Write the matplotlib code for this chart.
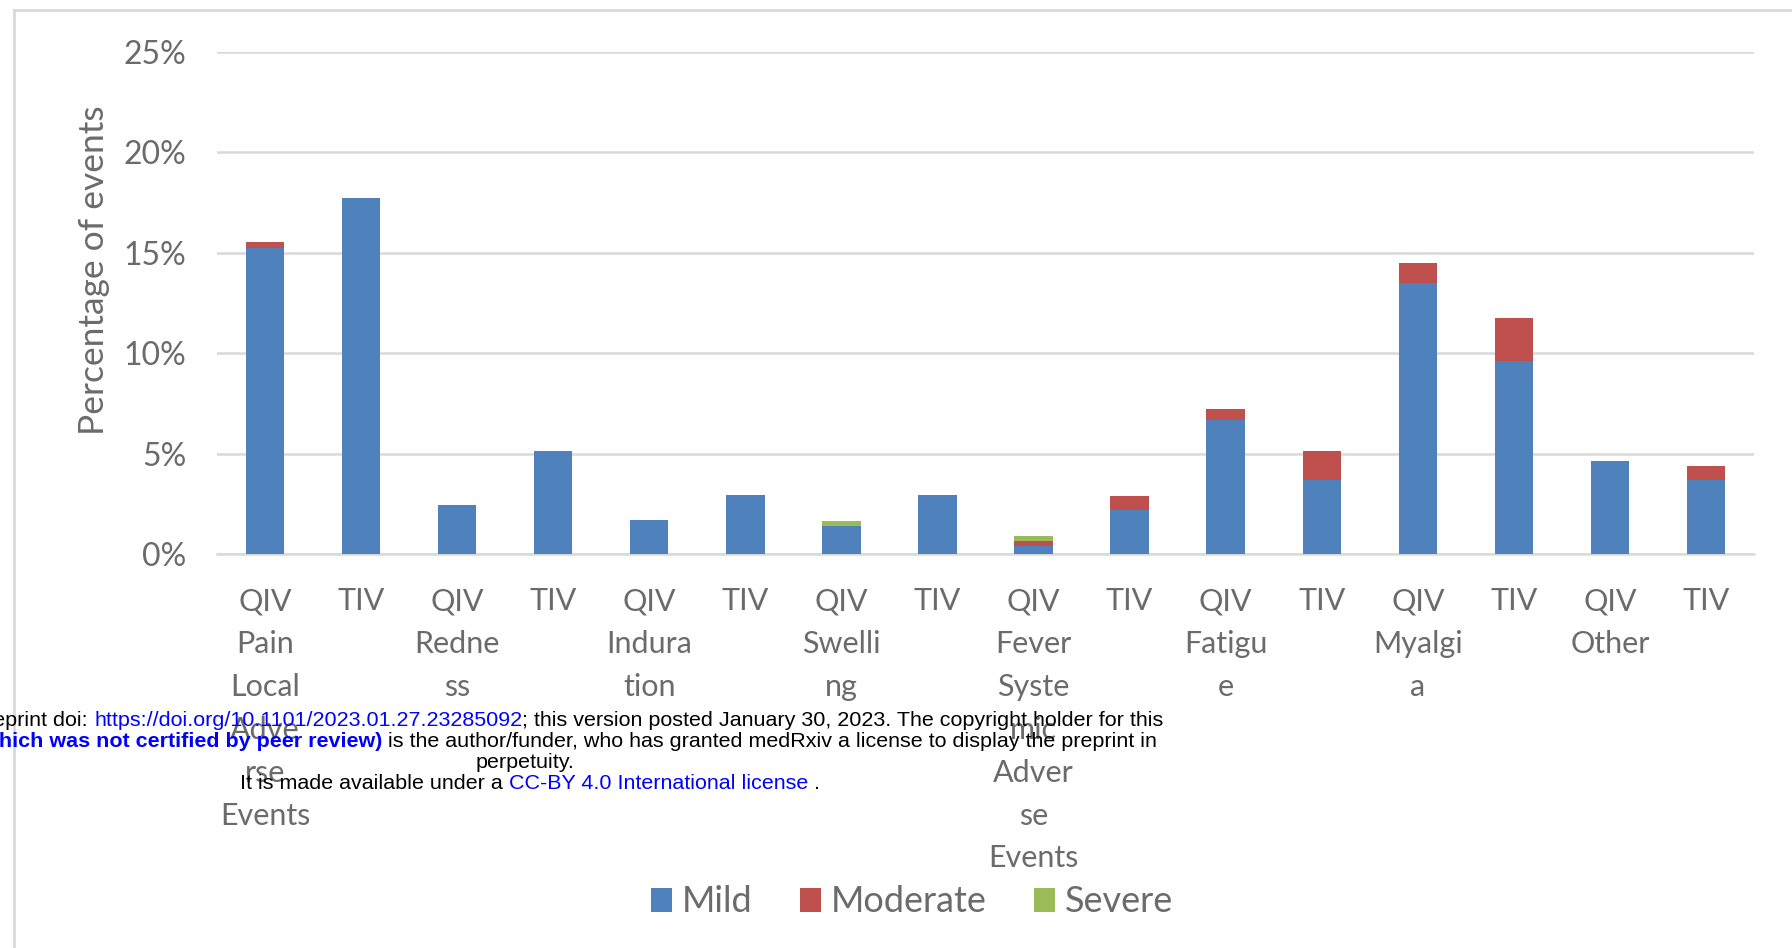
import matplotlib
matplotlib.use("Agg")
import matplotlib.pyplot as plt
from matplotlib.patches import Patch
from matplotlib.lines import Line2D
import numpy as np

# ---------------- data ----------------
tick_labels = [
    "QIV\nPain\nLocal\nAdve\nrse\nEvents", "TIV",
    "QIV\nRedne\nss", "TIV",
    "QIV\nIndura\ntion", "TIV",
    "QIV\nSwelli\nng", "TIV",
    "QIV\nFever\nSyste\nmic\nAdver\nse\nEvents", "TIV",
    "QIV\nFatigu\ne", "TIV",
    "QIV\nMyalgi\na", "TIV",
    "QIV\nOther", "TIV",
]
mild     = [15.25, 17.75, 2.45, 5.15, 1.70, 2.95, 1.40, 2.92, 0.40, 2.20, 6.65, 3.70, 13.5, 9.60, 4.65, 3.70]
moderate = [0.30, 0.00, 0.00, 0.00, 0.00, 0.00, 0.00, 0.00, 0.25, 0.70, 0.55, 1.45, 1.00, 2.15, 0.00, 0.70]
severe   = [0.00, 0.00, 0.00, 0.00, 0.00, 0.00, 0.25, 0.00, 0.27, 0.00, 0.00, 0.00, 0.00, 0.00, 0.00, 0.00]
series_names = ["Mild", "Moderate", "Severe"]
yticks = [0, 5, 10, 15, 20, 25]
ytick_labels = ["0%", "5%", "10%", "15%", "20%", "25%"]
ylabel = "Percentage of events"

# ---------------- style ----------------
W, H = 1792, 948
DPI = 100
C_MILD, C_MOD, C_SEV = "#4F81BD", "#C0504D", "#9BBB59"
GRAY = "#6b6b6b"
GRID = "#d9d9d9"
FONT = "Lato"

fig = plt.figure(figsize=(W / DPI, H / DPI), dpi=DPI)
fig.patch.set_facecolor("white")

ax = fig.add_axes([217 / W, 1 - 554 / H, (1754 - 217) / W, (554 - 52) / H])
x = np.arange(len(mild))
bw = 0.40
mild_a = np.array(mild); mod_a = np.array(moderate); sev_a = np.array(severe)
ax.bar(x, mild_a, bw, color=C_MILD, zorder=3)
ax.bar(x, mod_a, bw, bottom=mild_a, color=C_MOD, zorder=3)
ax.bar(x, sev_a, bw, bottom=mild_a + mod_a, color=C_SEV, zorder=3)

ax.set_xlim(-0.5, len(mild) - 0.5)
ax.set_ylim(0, 25)
ax.set_yticks(yticks)
ax.set_yticklabels(ytick_labels, fontsize=23, color=GRAY, fontfamily=FONT)
ax.yaxis.grid(True, color=GRID, lw=1.8, zorder=0)
ax.set_axisbelow(True)
for s in ["top", "right", "left"]:
    ax.spines[s].set_visible(False)
ax.spines["bottom"].set_color(GRID)
ax.spines["bottom"].set_linewidth(1.8)
ax.tick_params(axis="y", length=0, pad=22)
ax.tick_params(axis="x", length=0, pad=24)
ax.set_xticks(x)
ax.set_xticklabels(tick_labels, fontsize=22, color=GRAY, fontfamily=FONT,
                   linespacing=1.645, va="top")

fig.text(94 / W, 1 - 236 * 1.1429 / H, ylabel, rotation=90, ha="center",
         va="center", fontsize=25.5, color=GRAY, fontfamily=FONT)

# legend
handles = [Patch(facecolor=c, edgecolor="none") for c in (C_MILD, C_MOD, C_SEV)]
fig.legend(handles, series_names, loc="center", bbox_to_anchor=(912 / W, 1 - 902 / H),
           ncol=3, frameon=False, handlelength=0.58, handleheight=0.64,
           handletextpad=0.28, columnspacing=1.3,
           prop={"family": FONT, "size": 26}, labelcolor=GRAY)

# chart frame (top and left edges)
fig.add_artist(Line2D([14 / W, 1.0], [1 - 10 / H, 1 - 10 / H], transform=fig.transFigure,
                      color=GRID, lw=2))
fig.add_artist(Line2D([14 / W, 14 / W], [1 - 10 / H, 0.0], transform=fig.transFigure,
                      color=GRID, lw=2))

# ---------------- medRxiv overlay ----------------
renderer = fig.canvas.get_renderer()
WM_FONT = "Liberation Sans"

def seg_width(txt, weight, size):
    t = fig.text(0, 0, txt, fontsize=size, fontweight=weight, family=WM_FONT)
    w = t.get_window_extent(renderer).width
    t.remove()
    return w

url = "https://doi.org/10.1101/2023.01.27.23285092"
wm_size = 13.0 * 425.0 / seg_width(url, "normal", 13.0)

# (baseline y, anchor mode, anchor x, segments)
lines = [
    (726, "right", 1163.5,
     [("preprint doi: ", "black", "normal"),
      (url, "blue", "normal"),
      ("; this version posted January 30, 2023. The copyright holder for this", "black", "normal")]),
    (747, "right", 1157.0,
     [("(which was not certified by peer review)", "blue", "bold"),
      (" is the author/funder, who has granted medRxiv a license to display the preprint in", "black", "normal")]),
    (768, "center", 525.0, [("perpetuity.", "black", "normal")]),
    (789, "left", 240.0,
     [("It is made available under a ", "black", "normal"),
      ("CC-BY 4.0 International license", "blue", "normal"),
      (" .", "black", "normal")]),
]

for base_y, mode, ax_x, segs in lines:
    widths = [seg_width(s, wt, wm_size) for s, c, wt in segs]
    total = sum(widths)
    if mode == "right":
        xpos = ax_x - total
    elif mode == "center":
        xpos = ax_x - total / 2
    else:
        xpos = ax_x
    for (s, c, wt), w in zip(segs, widths):
        fig.text(xpos / W, 1 - base_y / H, s, fontsize=wm_size, fontweight=wt, color=c,
                 family=WM_FONT, ha="left", va="baseline", zorder=10)
        xpos += w

fig.savefig("out.png", dpi=DPI, facecolor="white")
